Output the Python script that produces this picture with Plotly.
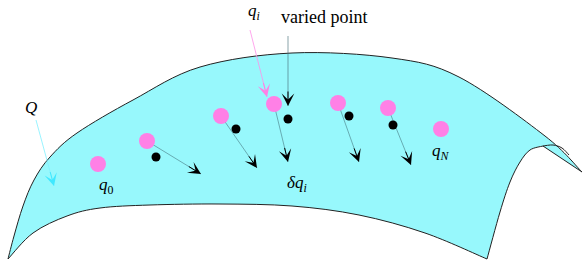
import plotly.graph_objects as go
import numpy as np

W, H = 584, 266

# ---- surface outline (pixel-like diagram coordinates) ----
top_edge_x = [8, 14, 23, 34, 50, 77, 133, 200, 292, 392, 459, 545, 582]
top_edge_y = [259, 236, 206, 180, 157, 133, 100, 67, 53, 58, 77, 136, 172]
fold_x = [582, 543]
fold_y = [172, 146]
right_edge_x = [543, 530, 520, 510, 500, 487]
right_edge_y = [146, 150, 162, 182, 212, 259]
bottom_edge_x = [487, 425, 359, 292, 220, 150, 100, 67, 33, 8]
bottom_edge_y = [259, 233, 215, 206, 204, 205, 208, 216, 233, 259]
flap_x = [543, 553, 562, 569]
flap_y = [146, 145, 148, 155]

# ---- points ----
pink_x = [98, 147, 221, 274, 338, 388, 441]
pink_y = [164, 141, 116, 104, 103, 108, 129]
black_x = [156, 236, 288, 349, 393]
black_y = [157, 129, 119, 116, 125]

# variation arrows: start (pink centres 2..6) -> tip
var_from_x = [147, 221, 274, 338, 388]
var_from_y = [141, 116, 104, 103, 108]
var_to_x = [201, 257, 288, 359, 411]
var_to_y = [174, 168, 162, 162, 165]

# label arrows
qi_arrow = dict(x0=250, y0=30, x1=267, y1=97)
vp_arrow = dict(x0=288, y0=36, x1=288, y1=106)
Q_arrow = dict(x0=36, y0=120, x1=54, y1=186)

labels_text = ["<i>q<sub>i</sub></i>", "varied point", "<i>Q</i>", "<i>q</i><sub>0</sub>",
               "<i>q<sub>N</sub></i>", "<i>δq<sub>i</sub></i>"]
labels_x = [254, 324, 31, 106, 441, 297]
labels_y = [12, 17, 107, 186, 152, 184]
labels_size = [17, 18, 17, 17, 17, 17]


def cr_segments(xs, ys):
    p = np.array(list(zip(xs, ys)), dtype=float)
    out = []
    n = len(p)
    for i in range(n - 1):
        p0 = p[i - 1] if i > 0 else p[i]
        p1, p2 = p[i], p[i + 1]
        p3 = p[i + 2] if i + 2 < n else p[i + 1]
        c1 = p1 + (p2 - p0) / 6
        c2 = p2 - (p3 - p1) / 6
        out.append(f"C {c1[0]:.2f},{c1[1]:.2f} {c2[0]:.2f},{c2[1]:.2f} {p2[0]:.2f},{p2[1]:.2f}")
    return " ".join(out)


surface_path = (f"M {top_edge_x[0]},{top_edge_y[0]} "
                + cr_segments(top_edge_x, top_edge_y) + " "
                + f"L {fold_x[1]},{fold_y[1]} "
                + cr_segments(right_edge_x, right_edge_y) + " "
                + cr_segments(bottom_edge_x, bottom_edge_y) + " Z")
flap_path = f"M {flap_x[0]},{flap_y[0]} " + cr_segments(flap_x, flap_y)

fig = go.Figure()

shapes = [
    dict(type="path", path=surface_path, xref="x", yref="y",
         fillcolor="#97F8FC", line=dict(color="#222222", width=1), layer="below"),
    dict(type="path", path=flap_path, xref="x", yref="y",
         line=dict(color="#222222", width=1)),
]

# thin lines of the variation arrows
for x0, y0, x1, y1 in zip(var_from_x, var_from_y, var_to_x, var_to_y):
    fig.add_trace(go.Scatter(x=[x0, x1], y=[y0, y1], mode="lines",
                             line=dict(color="rgba(70,120,130,0.75)", width=0.8),
                             hoverinfo="skip", showlegend=False))

# label arrow lines
fig.add_trace(go.Scatter(x=[qi_arrow["x0"], qi_arrow["x1"]], y=[qi_arrow["y0"], qi_arrow["y1"]],
                         mode="lines", line=dict(color="#FF90E8", width=0.8),
                         hoverinfo="skip", showlegend=False))
fig.add_trace(go.Scatter(x=[vp_arrow["x0"], vp_arrow["x1"]], y=[vp_arrow["y0"], vp_arrow["y1"]],
                         mode="lines", line=dict(color="rgba(70,110,120,0.8)", width=0.8),
                         hoverinfo="skip", showlegend=False))
fig.add_trace(go.Scatter(x=[Q_arrow["x0"], Q_arrow["x1"]], y=[Q_arrow["y0"], Q_arrow["y1"]],
                         mode="lines", line=dict(color="#80F0FF", width=0.8),
                         hoverinfo="skip", showlegend=False))

# dots
fig.add_trace(go.Scatter(x=pink_x, y=pink_y, mode="markers",
                         marker=dict(color="#FF80E6", size=16, line=dict(width=0)),
                         hoverinfo="skip", showlegend=False))
fig.add_trace(go.Scatter(x=black_x, y=black_y, mode="markers",
                         marker=dict(color="black", size=9, line=dict(width=0)),
                         hoverinfo="skip", showlegend=False))

annotations = []


def head(x0, y0, x1, y1, color, back=16):
    d = np.array([x1 - x0, y1 - y0], dtype=float)
    d /= np.linalg.norm(d)
    return dict(x=x1, y=y1, ax=x1 - d[0] * back, ay=y1 - d[1] * back,
                xref="x", yref="y", axref="x", ayref="y", text="",
                showarrow=True, arrowhead=3, arrowsize=2.1, arrowwidth=1,
                arrowcolor=color, standoff=0, startstandoff=0)


for x0, y0, x1, y1 in zip(var_from_x, var_from_y, var_to_x, var_to_y):
    annotations.append(head(x0, y0, x1, y1, "black"))
annotations.append(head(qi_arrow["x0"], qi_arrow["y0"], qi_arrow["x1"], qi_arrow["y1"], "#FF80E6"))
annotations.append(head(vp_arrow["x0"], vp_arrow["y0"], vp_arrow["x1"], vp_arrow["y1"], "black"))
annotations.append(head(Q_arrow["x0"], Q_arrow["y0"], Q_arrow["x1"], Q_arrow["y1"], "#40E8FF"))

for t, x, y, s in zip(labels_text, labels_x, labels_y, labels_size):
    annotations.append(dict(x=x, y=y, xref="x", yref="y", text=t, showarrow=False,
                            font=dict(family="Liberation Serif", size=s, color="black"),
                            xanchor="center", yanchor="middle"))

fig.update_layout(
    width=W, height=H, margin=dict(l=0, r=0, t=0, b=0),
    paper_bgcolor="white", plot_bgcolor="white",
    xaxis=dict(range=[0, W], visible=False, fixedrange=True),
    yaxis=dict(range=[H, 0], visible=False, fixedrange=True),
    shapes=shapes, annotations=annotations, showlegend=False,
)

fig.write_html("out.html", config={"displayModeBar": False},
               post_script="document.body.style.margin='0';document.body.style.overflow='hidden';")
